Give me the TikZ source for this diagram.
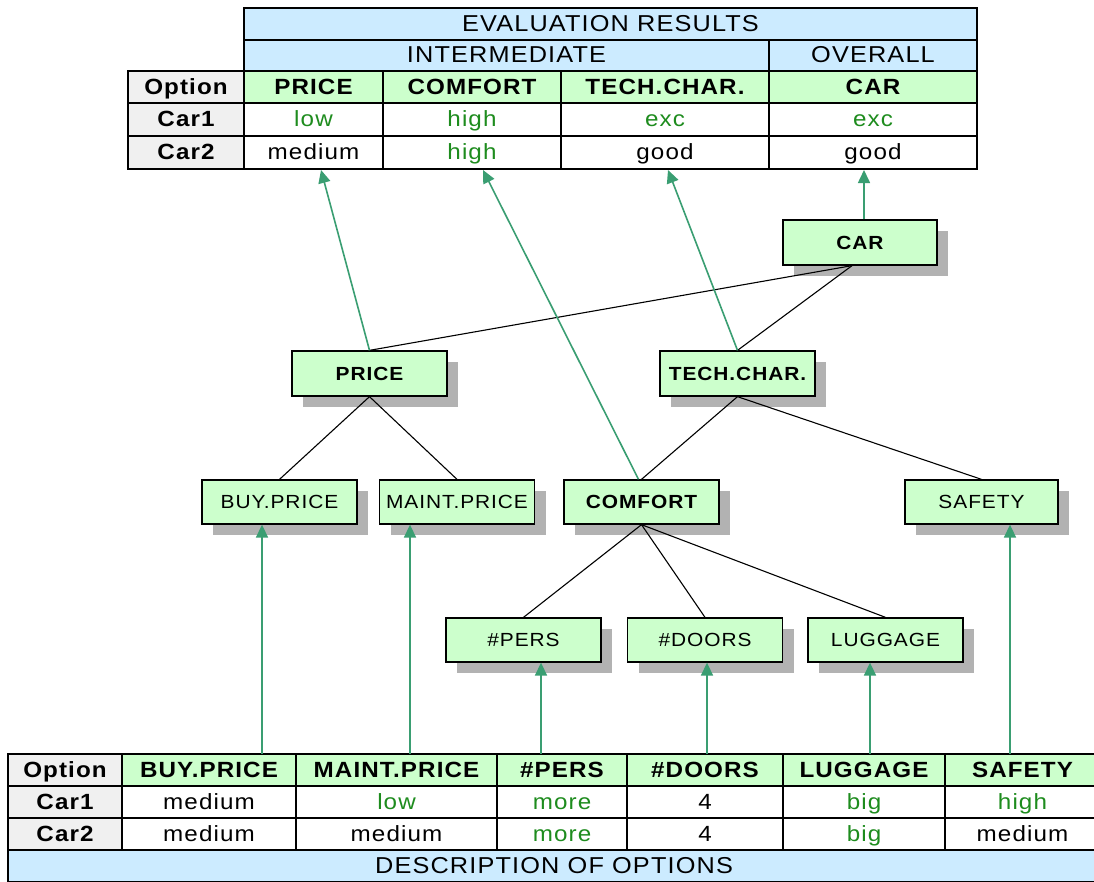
\documentclass[tikz,border=0pt]{standalone}
\usepackage{fontspec}
\setmainfont{Liberation Sans}[FakeStretch=1.1,LetterSpace=5]
\usetikzlibrary{arrows.meta,shadows}
\definecolor{hdrblue}{HTML}{CCEBFF}
\definecolor{hdrgreen}{HTML}{CCFFCC}
\definecolor{optgray}{HTML}{F0F0F0}
\definecolor{valgreen}{HTML}{1E8C1E}
\definecolor{arrgreen}{HTML}{3A9E72}
\definecolor{nodegreen}{HTML}{CCFFCC}
\begin{document}
\begin{tikzpicture}[x=1pt,y=-1pt,
  cellbox/.style={draw=black, line width=1.3pt, inner sep=0pt, anchor=center, text height=17pt, text depth=3pt},
  bigtxt/.style={font=\fontsize{23}{23}\selectfont},
  hdr/.style={cellbox, fill=hdrgreen, font=\fontsize{22}{22}\selectfont\bfseries},
  opt/.style={cellbox, fill=optgray, font=\fontsize{22}{22}\selectfont\bfseries},
  val/.style={cellbox, fill=white, font=\fontsize{22}{22}\selectfont},
  gval/.style={val, text=valgreen},
  blu/.style={cellbox, fill=hdrblue, bigtxt},
  tnode/.style={draw=black, line width=1.3pt, fill=nodegreen, minimum width=155pt, minimum height=44pt, inner sep=0pt,
    text height=15pt, text depth=2pt,
    drop shadow={shadow xshift=11pt, shadow yshift=-11pt, fill=black!30, opacity=1},
    font=\fontsize{19}{19}\selectfont},
  btnode/.style={tnode, font=\fontsize{19}{19}\selectfont\bfseries},
  link/.style={draw=black, line width=1.1pt},
  garr/.style={draw=arrgreen, line width=1.6pt, -{Triangle[length=13pt,width=12pt]}}
]
\clip (0,0) rectangle (1094,881);
\fill[white] (0,0) rectangle (1094,881);

% ---------- top table ----------
\node[blu, minimum width=733pt, minimum height=32pt] (evr) at (610.5,24) {EVALUATION RESULTS};
\node[blu, minimum width=525pt, minimum height=31pt] (inter) at (506.5,55.5) {INTERMEDIATE};
\node[blu, minimum width=208pt, minimum height=31pt] (overall) at (873,55.5) {OVERALL};

\node[opt, minimum width=116pt, minimum height=32pt] (tOpt) at (186,87) {Option};
\node[hdr, minimum width=139pt, minimum height=32pt] (tPrice) at (313.5,87) {PRICE};
\node[hdr, minimum width=178pt, minimum height=32pt] (tComf) at (472,87) {COMFORT};
\node[hdr, minimum width=208pt, minimum height=32pt] (tTech) at (665,87) {TECH.CHAR.};
\node[hdr, minimum width=208pt, minimum height=32pt] (tCar) at (873,87) {CAR};

\node[opt, minimum width=116pt, minimum height=33pt] (tC1) at (186,119.5) {Car1};
\node[gval, minimum width=139pt, minimum height=33pt] (tC1a) at (313.5,119.5) {low};
\node[gval, minimum width=178pt, minimum height=33pt] (tC1b) at (472,119.5) {high};
\node[gval, minimum width=208pt, minimum height=33pt] (tC1c) at (665,119.5) {exc};
\node[gval, minimum width=208pt, minimum height=33pt] (tC1d) at (873,119.5) {exc};

\node[opt, minimum width=116pt, minimum height=33pt] (tC2) at (186,152.5) {Car2};
\node[val, minimum width=139pt, minimum height=33pt] (tC2a) at (313.5,152.5) {medium};
\node[gval, minimum width=178pt, minimum height=33pt] (tC2b) at (472,152.5) {high};
\node[val, minimum width=208pt, minimum height=33pt] (tC2c) at (665,152.5) {good};
\node[val, minimum width=208pt, minimum height=33pt] (tC2d) at (873,152.5) {good};

% ---------- bottom table ----------
\node[opt, minimum width=114pt, minimum height=32pt] (bOpt) at (65,770) {Option};
\node[hdr, minimum width=174pt, minimum height=32pt] (bBuy) at (209,770) {BUY.PRICE};
\node[hdr, minimum width=201pt, minimum height=32pt] (bMaint) at (396.5,770) {MAINT.PRICE};
\node[hdr, minimum width=130pt, minimum height=32pt] (bPers) at (562,770) {\#PERS};
\node[hdr, minimum width=156pt, minimum height=32pt] (bDoors) at (705,770) {\#DOORS};
\node[hdr, minimum width=162pt, minimum height=32pt] (bLug) at (864,770) {LUGGAGE};
\node[hdr, minimum width=155pt, minimum height=32pt] (bSaf) at (1022.5,770) {SAFETY};

\node[opt, minimum width=114pt, minimum height=32pt] (bC1) at (65,802) {Car1};
\node[val, minimum width=174pt, minimum height=32pt] (bC1a) at (209,802) {medium};
\node[gval, minimum width=201pt, minimum height=32pt] (bC1b) at (396.5,802) {low};
\node[gval, minimum width=130pt, minimum height=32pt] (bC1c) at (562,802) {more};
\node[val, minimum width=156pt, minimum height=32pt] (bC1d) at (705,802) {4};
\node[gval, minimum width=162pt, minimum height=32pt] (bC1e) at (864,802) {big};
\node[gval, minimum width=155pt, minimum height=32pt] (bC1f) at (1022.5,802) {high};

\node[opt, minimum width=114pt, minimum height=32pt] (bC2) at (65,834) {Car2};
\node[val, minimum width=174pt, minimum height=32pt] (bC2a) at (209,834) {medium};
\node[val, minimum width=201pt, minimum height=32pt] (bC2b) at (396.5,834) {medium};
\node[gval, minimum width=130pt, minimum height=32pt] (bC2c) at (562,834) {more};
\node[val, minimum width=156pt, minimum height=32pt] (bC2d) at (705,834) {4};
\node[gval, minimum width=162pt, minimum height=32pt] (bC2e) at (864,834) {big};
\node[val, minimum width=155pt, minimum height=32pt] (bC2f) at (1022.5,834) {medium};

\node[blu, minimum width=1092pt, minimum height=32pt] (desc) at (554,866) {DESCRIPTION OF OPTIONS};

% ---------- tree ----------
\node[btnode, minimum width=154pt, minimum height=45pt] (car) at (860,242.5) {CAR};
\node[btnode, minimum height=45pt] (price) at (369.5,373.5) {PRICE};
\node[btnode, minimum height=45pt] (tech) at (737.5,373.5) {TECH.CHAR.};
\node[tnode] (buy) at (279.5,502) {BUY.PRICE};
\node[tnode] (maint) at (457,502) {MAINT.PRICE};
\node[btnode] (comfort) at (641.5,502) {COMFORT};
\node[tnode, minimum width=153pt] (safety) at (981.5,502) {SAFETY};
\node[tnode] (pers) at (523.5,640) {\#PERS};
\node[tnode] (doors) at (705,640) {\#DOORS};
\node[tnode] (lug) at (885.5,640) {LUGGAGE};

% black hierarchy links
\draw[link] ([xshift=-8pt]car.south) -- (price.north);
\draw[link] ([xshift=-8pt]car.south) -- (tech.north);
\draw[link] (price.south) -- (buy.north);
\draw[link] (price.south) -- (maint.north);
\draw[link] (tech.south) -- (comfort.north);
\draw[link] (tech.south) -- (safety.north);
\draw[link] (comfort.south) -- (pers.north);
\draw[link] (comfort.south) -- (doors.north);
\draw[link] (comfort.south) -- (lug.north);

% green arrows to top table
\coordinate (eP) at (321,170);
\coordinate (eC) at (483,170);
\coordinate (eT) at (668,170);
\coordinate (eR) at (864,170);
\draw[garr] (price.north) -- (eP);
\draw[garr] ([xshift=-3pt]comfort.north) -- (eC);
\draw[garr] (tech.north) -- (eT);
\draw[garr] ([xshift=4pt]car.north) -- (eR);

% green arrows from bottom table
\coordinate (sB) at (262,754);
\coordinate (sM) at (410,754);
\coordinate (sP) at (541,754);
\coordinate (sD) at (707,754);
\coordinate (sL) at (870,754);
\coordinate (sS) at (1010,754);
\draw[garr] (sB) -- (sB |- buy.south);
\draw[garr] (sM) -- (sM |- maint.south);
\draw[garr] (sP) -- (sP |- pers.south);
\draw[garr] (sD) -- (sD |- doors.south);
\draw[garr] (sL) -- (sL |- lug.south);
\draw[garr] (sS) -- (sS |- safety.south);
\end{tikzpicture}
\end{document}
